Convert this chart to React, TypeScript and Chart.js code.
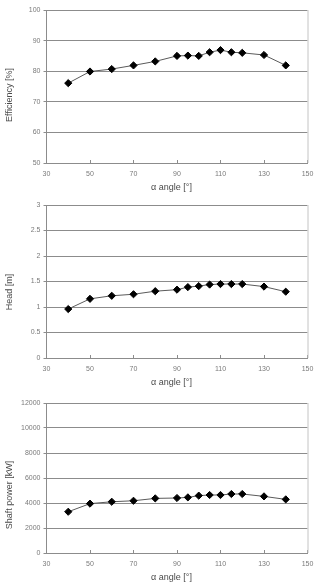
import React, { useEffect, useRef } from "react";
import { Chart, registerables } from "chart.js";

Chart.register(...registerables);

// Impeller α angle settings (degrees)
const angles = [40, 50, 60, 70, 80, 90, 95, 100, 105, 110, 115, 120, 130, 140];
// Performance at each setting
const efficiency = [76.1, 79.9, 80.7, 81.9, 83.2, 85.0, 85.1, 85.0, 86.2, 86.9, 86.2, 86.0, 85.3, 81.9];
const head = [0.96, 1.16, 1.22, 1.25, 1.31, 1.34, 1.39, 1.41, 1.44, 1.45, 1.45, 1.45, 1.4, 1.3];
const shaftPower = [3300, 3950, 4100, 4180, 4370, 4400, 4450, 4590, 4640, 4640, 4720, 4720, 4530, 4290];
// Horizontal axis tick values
const angleTicks = [30, 50, 70, 90, 110, 130, 150];

const FONT = "'Liberation Sans', Arial, sans-serif";
const X_TITLE = "α angle [°]";

type Panel = {
  top: number;
  height: number;
  values: number[];
  yMin: number;
  yMax: number;
  yStep: number;
  yTitle: string;
  yTitleCenter: number;
  padTop: number;
  xAxisHeight: number;
};

const panels: Panel[] = [
  { top: 0, height: 195, values: efficiency, yMin: 50, yMax: 100, yStep: 10, yTitle: "Efficiency [%]", yTitleCenter: 95, padTop: 10, xAxisHeight: 32 },
  { top: 195, height: 195, values: head, yMin: 0, yMax: 3, yStep: 0.5, yTitle: "Head [m]", yTitleCenter: 97, padTop: 10, xAxisHeight: 32 },
  { top: 390, height: 197, values: shaftPower, yMin: 0, yMax: 12000, yStep: 2000, yTitle: "Shaft power [kW]", yTitleCenter: 105, padTop: 13, xAxisHeight: 34 },
];

function PerformanceChart({ panel }: { panel: Panel }) {
  const ref = useRef<HTMLCanvasElement | null>(null);

  useEffect(() => {
    if (!ref.current) return;

    const framePlugin = {
      id: "frame",
      beforeDatasetsDraw(chart: any) {
        const { ctx, chartArea } = chart;
        ctx.save();
        ctx.strokeStyle = "#c4c4c4";
        ctx.lineWidth = 1;
        ctx.beginPath();
        ctx.moveTo(chartArea.right + 0.5, chartArea.top);
        ctx.lineTo(chartArea.right + 0.5, chartArea.bottom);
        ctx.stroke();
        ctx.restore();
      },
      afterDraw(chart: any) {
        const { ctx, chartArea } = chart;
        ctx.save();
        ctx.fillStyle = "#4a4a4a";
        ctx.font = `9px ${FONT}`;
        ctx.textAlign = "center";
        ctx.textBaseline = "middle";
        ctx.fillText(X_TITLE, 171.5, chartArea.bottom + 24.5);
        ctx.translate(10, panel.yTitleCenter);
        ctx.rotate(-Math.PI / 2);
        ctx.fillText(panel.yTitle, 0, 0);
        ctx.restore();
      },
    };

    const chart = new Chart(ref.current, {
      type: "line",
      data: {
        datasets: [
          {
            data: angles.map((a, i) => ({ x: a, y: panel.values[i] })),
            borderColor: "#5a5a5a",
            borderWidth: 1,
            pointStyle: "rectRot",
            pointRadius: 3.6,
            pointBackgroundColor: "#000",
            pointBorderColor: "#000",
            pointBorderWidth: 1,
            tension: 0,
          },
        ],
      },
      options: {
        responsive: false,
        animation: false,
        layout: { padding: { top: panel.padTop, right: 6.5, left: 0, bottom: 0 } },
        plugins: { legend: { display: false }, tooltip: { enabled: false } },
        scales: {
          x: {
            type: "linear",
            min: 30,
            max: 150,
            afterBuildTicks: (scale: any) => {
              scale.ticks = angleTicks.map((v) => ({ value: v }));
            },
            afterFit: (scale: any) => {
              scale.height = panel.xAxisHeight;
              scale.paddingLeft = 0;
              scale.paddingRight = 0;
            },
            grid: { drawOnChartArea: false, drawTicks: true, tickLength: -3, color: "#8c8c8c" },
            border: { color: "#8c8c8c" },
            ticks: {
              font: { family: FONT, size: 7 },
              color: "#7a7a7a",
              padding: 10,
              maxRotation: 0,
              callback: (v: any) => String(v),
            },
          },
          y: {
            min: panel.yMin,
            max: panel.yMax,
            afterFit: (scale: any) => {
              scale.width = 46.5;
              scale.paddingTop = 0;
              scale.paddingBottom = 0;
            },
            grid: { color: "#8c8c8c", lineWidth: 1, tickLength: 3 },
            border: { color: "#8c8c8c" },
            ticks: {
              stepSize: panel.yStep,
              font: { family: FONT, size: 7 },
              color: "#7a7a7a",
              padding: 3,
              callback: (v: any) => String(v),
            },
          },
        },
      },
      plugins: [framePlugin],
    } as any);

    return () => chart.destroy();
  }, [panel]);

  return (
    <canvas
      ref={ref}
      width={314}
      height={panel.height}
      style={{ position: "absolute", left: 0, top: panel.top, width: 314, height: panel.height }}
    />
  );
}

export default function App() {
  return (
    <div style={{ position: "fixed", left: 0, top: 0, width: 314, height: 587, background: "#fff" }}>
      {panels.map((p) => (
        <PerformanceChart key={p.yTitle} panel={p} />
      ))}
    </div>
  );
}
